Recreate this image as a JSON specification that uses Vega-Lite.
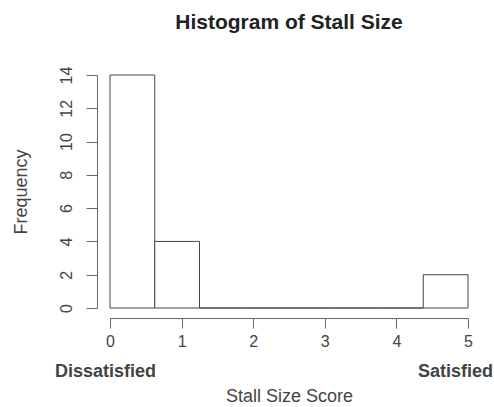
{
  "$schema": "https://vega.github.io/schema/vega-lite/v6.json",
  "width": 358,
  "height": 233,
  "autosize": {"type": "none"},
  "padding": {"left": 110, "top": 75, "right": 26, "bottom": 99},
  "background": "white",
  "config": {
    "view": {"stroke": null},
    "font": "Liberation Sans",
    "axis": {"grid": false, "domainColor": "#666666", "tickColor": "#666666", "labelColor": "#444444", "titleColor": "#444444", "labelFont": "Liberation Sans", "titleFont": "Liberation Sans"}
  },
  "title": {
    "text": "Histogram of Stall Size",
    "fontSize": 21,
    "fontWeight": "bold",
    "color": "#222222",
    "font": "Liberation Sans",
    "anchor": "middle",
    "offset": 33
  },
  "data": {
    "values": [
      {"bin_start": 0, "bin_end": 0.625, "count": 14},
      {"bin_start": 0.625, "bin_end": 1.25, "count": 4},
      {"bin_start": 1.25, "bin_end": 1.875, "count": 0},
      {"bin_start": 1.875, "bin_end": 2.5, "count": 0},
      {"bin_start": 2.5, "bin_end": 3.125, "count": 0},
      {"bin_start": 3.125, "bin_end": 3.75, "count": 0},
      {"bin_start": 3.75, "bin_end": 4.375, "count": 0},
      {"bin_start": 4.375, "bin_end": 5, "count": 2}
    ]
  },
  "resolve": {"axis": {"x": "independent"}},
  "layer": [
    {
      "mark": {"type": "rect", "fill": "white", "stroke": "#444444", "strokeWidth": 1},
      "encoding": {
        "x": {
          "field": "bin_start",
          "type": "quantitative",
          "scale": {"domain": [0, 5], "nice": false, "zero": false},
          "axis": {
            "orient": "bottom",
            "title": null,
            "values": [0, 1, 2, 3, 4, 5],
            "offset": 10,
            "tickSize": 10,
            "labelFontSize": 16,
            "labelPadding": 5,
            "labelFlush": false,
            "labelOverlap": false,
            "labelBound": false
          }
        },
        "x2": {"field": "bin_end"},
        "y": {
          "field": "count",
          "type": "quantitative",
          "scale": {"domain": [0, 14], "nice": false},
          "axis": {
            "title": "Frequency",
            "titleFontSize": 18,
            "titleFontWeight": "normal",
            "titlePadding": 28,
            "values": [0, 2, 4, 6, 8, 10, 12, 14],
            "offset": 13,
            "tickSize": 11,
            "labelFontSize": 16,
            "labelAngle": -90,
            "labelAlign": "center",
            "labelBaseline": "bottom",
            "labelPadding": 12,
            "labelFlush": false,
            "labelOverlap": false,
            "labelBound": false
          }
        },
        "y2": {"datum": 0}
      }
    },
    {
      "mark": {"type": "rect", "opacity": 0},
      "encoding": {
        "x": {
          "field": "bin_start",
          "type": "quantitative",
          "axis": {
            "orient": "bottom",
            "title": "Stall Size Score",
            "titleFontSize": 18,
            "titleFontWeight": "normal",
            "titlePadding": 7,
            "values": [0, 5],
            "offset": 10,
            "domain": false,
            "ticks": false,
            "tickSize": 0,
            "labelFontSize": 18,
            "labelFontWeight": "bold",
            "labelPadding": 44,
            "labelOffset": {"condition": {"test": "datum.value == 5", "value": -13}, "value": -5},
            "labelFlush": false,
            "labelOverlap": false,
            "labelBound": false,
            "labelExpr": "datum.value == 0 ? 'Dissatisfied' : 'Satisfied'"
          }
        },
        "x2": {"field": "bin_end"}
      }
    }
  ]
}
